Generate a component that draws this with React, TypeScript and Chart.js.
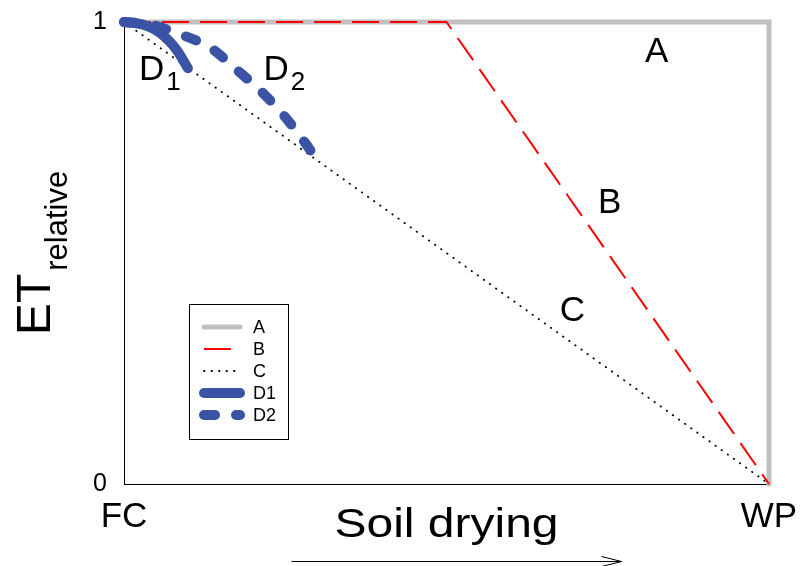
import React, { useEffect, useRef } from 'react';
import { Chart, registerables } from 'chart.js';

Chart.register(...registerables);

const FONT = "'Liberation Sans', Arial, sans-serif";

// Axis ticks
const xTickValues = [0, 1];
const xTickLabels = ['FC', 'WP'];
const yTickValues = [0, 1];
const yTickLabels = ['0', '1'];

// Series
const seriesNames = ['A', 'B', 'C', 'D1', 'D2'];
const aX = [0, 1, 1];
const aY = [1, 1, 0];
const bX = [0, 0.5, 1];
const bY = [1, 1, 0];
const cX = [0, 1];
const cY = [1, 0];
const d1X = [0, 0.03, 0.056, 0.082, 0.099];
const d1Y = [1, 0.994, 0.976, 0.939, 0.9];
const d2X = [0, 0.04, 0.082, 0.134, 0.172, 0.214, 0.247, 0.281, 0.292];
const d2Y = [1, 0.995, 0.976, 0.944, 0.9, 0.848, 0.799, 0.738, 0.716];

// In-plot labels
const annoTexts = ['A', 'B', 'C', 'D', 'D'];
const annoSubs = ['', '', '', '1', '2'];
const annoX = [0.826, 0.753, 0.695, 0.043, 0.236];
const annoY = [0.935, 0.608, 0.374, 0.896, 0.896];

const xTitle = 'Soil drying';
const yTitleMain = 'ET';
const yTitleSub = 'relative';

const pts = (xs: number[], ys: number[]) => xs.map((x, i) => ({ x, y: ys[i] }));

const overlayPlugin = {
  id: 'overlay',
  afterDraw(chart: any) {
    const ctx: CanvasRenderingContext2D = chart.ctx;
    const xs = chart.scales.x;
    const ys = chart.scales.y;
    const ca = chart.chartArea;
    ctx.save();
    ctx.fillStyle = '#000';

    // in-plot labels
    annoTexts.forEach((t, i) => {
      const px = xs.getPixelForValue(annoX[i]);
      const py = ys.getPixelForValue(annoY[i]);
      ctx.font = `35px ${FONT}`;
      ctx.textAlign = 'center';
      ctx.textBaseline = 'middle';
      ctx.fillText(t, px, py);
      if (annoSubs[i]) {
        const w = ctx.measureText(t).width;
        ctx.font = `26px ${FONT}`;
        ctx.textAlign = 'left';
        ctx.fillText(annoSubs[i], px + w / 2 + 2, py + 13);
      }
    });

    // legend box
    const lx = ca.left + 65;
    const ly = ca.top + 282;
    const lw = 99;
    const lh = 135;
    ctx.fillStyle = '#fff';
    ctx.fillRect(lx, ly, lw, lh);
    ctx.strokeStyle = '#000';
    ctx.lineWidth = 1;
    ctx.setLineDash([]);
    ctx.strokeRect(lx + 0.5, ly + 0.5, lw, lh);
    chart.data.datasets.forEach((ds: any, i: number) => {
      const yy = ly + 23 + i * 22;
      ctx.save();
      ctx.strokeStyle = ds.borderColor;
      ctx.lineWidth = ds.borderWidth;
      ctx.lineCap = ds.borderCapStyle || 'butt';
      ctx.setLineDash(ds.borderDash || []);
      ctx.beginPath();
      ctx.moveTo(lx + 15, yy);
      ctx.lineTo(lx + 51, yy);
      ctx.stroke();
      ctx.restore();
      ctx.fillStyle = '#000';
      ctx.font = `18px ${FONT}`;
      ctx.textAlign = 'left';
      ctx.textBaseline = 'middle';
      ctx.fillText(ds.label, lx + 64, yy + 1);
    });

    // y title
    const midY = (ca.top + ca.bottom) / 2;
    ctx.save();
    ctx.rotate(-Math.PI / 2);
    ctx.fillStyle = '#000';
    ctx.textAlign = 'left';
    ctx.textBaseline = 'alphabetic';
    ctx.font = `48px ${FONT}`;
    const wET = ctx.measureText(yTitleMain).width;
    ctx.font = `31px ${FONT}`;
    const wRel = ctx.measureText(yTitleSub).width;
    const total = wET + 3 + wRel;
    const start = midY + total / 2;
    ctx.font = `48px ${FONT}`;
    ctx.fillText(yTitleMain, -start, 50);
    ctx.font = `31px ${FONT}`;
    ctx.fillText(yTitleSub, -start + wET + 3, 67);
    ctx.restore();

    // x title (slightly wide lettering)
    const midX = (ca.left + ca.right) / 2;
    ctx.save();
    ctx.font = `40px ${FONT}`;
    const wT = ctx.measureText(xTitle).width * 1.2;
    ctx.translate(midX - wT / 2, ca.bottom + 53);
    ctx.scale(1.2, 1);
    ctx.textAlign = 'left';
    ctx.textBaseline = 'alphabetic';
    ctx.fillStyle = '#000';
    ctx.fillText(xTitle, 0, 0);
    ctx.restore();

    // arrow
    const ay = ca.bottom + 77.5;
    const ax0 = midX - 155;
    const ax1 = midX + 175;
    ctx.strokeStyle = '#000';
    ctx.lineWidth = 1;
    ctx.setLineDash([]);
    ctx.beginPath();
    ctx.moveTo(ax0, ay);
    ctx.lineTo(ax1, ay);
    ctx.moveTo(ax1 - 20, ay - 5);
    ctx.lineTo(ax1, ay);
    ctx.lineTo(ax1 - 20, ay + 5);
    ctx.stroke();

    ctx.restore();
  },
};

export default function App() {
  const ref = useRef<HTMLCanvasElement | null>(null);

  useEffect(() => {
    if (!ref.current) return;
    const chart = new Chart(ref.current, {
      type: 'line',
      data: {
        datasets: [
          {
            label: seriesNames[0],
            data: pts(aX, aY),
            borderColor: '#C0C0C0',
            borderWidth: 5,
            borderCapStyle: 'round',
            pointRadius: 0,
            tension: 0,
            clip: 8,
            order: 5,
          },
          {
            label: seriesNames[1],
            data: pts(bX, bY),
            borderColor: '#FF0000',
            borderWidth: 2,
            borderDash: [27, 11],
            pointRadius: 0,
            tension: 0,
            clip: 8,
            order: 4,
          },
          {
            label: seriesNames[2],
            data: pts(cX, cY),
            borderColor: '#000000',
            borderWidth: 1.8,
            borderDash: [0.5, 7],
            borderCapStyle: 'round',
            pointRadius: 0,
            tension: 0,
            clip: 8,
            order: 3,
          },
          {
            label: seriesNames[3],
            data: pts(d1X, d1Y),
            borderColor: '#3A53A4',
            borderWidth: 10,
            borderCapStyle: 'round',
            borderJoinStyle: 'round',
            pointRadius: 0,
            cubicInterpolationMode: 'monotone',
            clip: 8,
            order: 2,
          },
          {
            label: seriesNames[4],
            data: pts(d2X, d2Y),
            borderColor: '#3A53A4',
            borderWidth: 10,
            borderDash: [11, 21],
            borderCapStyle: 'round',
            borderJoinStyle: 'round',
            pointRadius: 0,
            cubicInterpolationMode: 'monotone',
            clip: 8,
            order: 1,
          },
        ] as any,
      },
      options: {
        animation: false,
        responsive: true,
        maintainAspectRatio: false,
        layout: { padding: { top: 22, right: 32, left: 0, bottom: 0 } },
        plugins: {
          legend: { display: false },
          tooltip: { enabled: false },
        },
        scales: {
          x: {
            type: 'linear',
            min: 0,
            max: 1,
            grid: { display: false, drawTicks: false },
            border: { display: true, color: '#000', width: 1 },
            ticks: {
              color: '#000',
              font: { family: FONT, size: 35 },
              padding: 12,
              maxRotation: 0,
              autoSkip: false,
              callback: (v: any) => {
                const i = xTickValues.indexOf(Number(v));
                return i >= 0 ? xTickLabels[i] : '';
              },
            },
            afterBuildTicks: (s: any) => {
              s.ticks = xTickValues.map((v) => ({ value: v }));
            },
            afterFit: (s: any) => {
              s.height = 82;
              s.paddingLeft = 0;
              s.paddingRight = 0;
              s.paddingTop = 0;
              s.paddingBottom = 0;
            },
          },
          y: {
            type: 'linear',
            min: 0,
            max: 1,
            grid: { display: false, drawTicks: false },
            border: { display: true, color: '#000', width: 1 },
            ticks: {
              color: '#000',
              font: { family: FONT, size: 25 },
              padding: 17,
              autoSkip: false,
              callback: (v: any) => {
                const i = yTickValues.indexOf(Number(v));
                return i >= 0 ? yTickLabels[i] : '';
              },
            },
            afterBuildTicks: (s: any) => {
              s.ticks = yTickValues.map((v) => ({ value: v }));
            },
            afterFit: (s: any) => {
              s.width = 124;
              s.paddingLeft = 0;
              s.paddingRight = 0;
              s.paddingTop = 0;
              s.paddingBottom = 0;
            },
          },
        },
      },
      plugins: [overlayPlugin],
    });
    return () => chart.destroy();
  }, []);

  return (
    <div style={{ position: 'fixed', left: 0, top: 0, width: 801, height: 566, background: '#fff' }}>
      <canvas ref={ref} />
    </div>
  );
}
